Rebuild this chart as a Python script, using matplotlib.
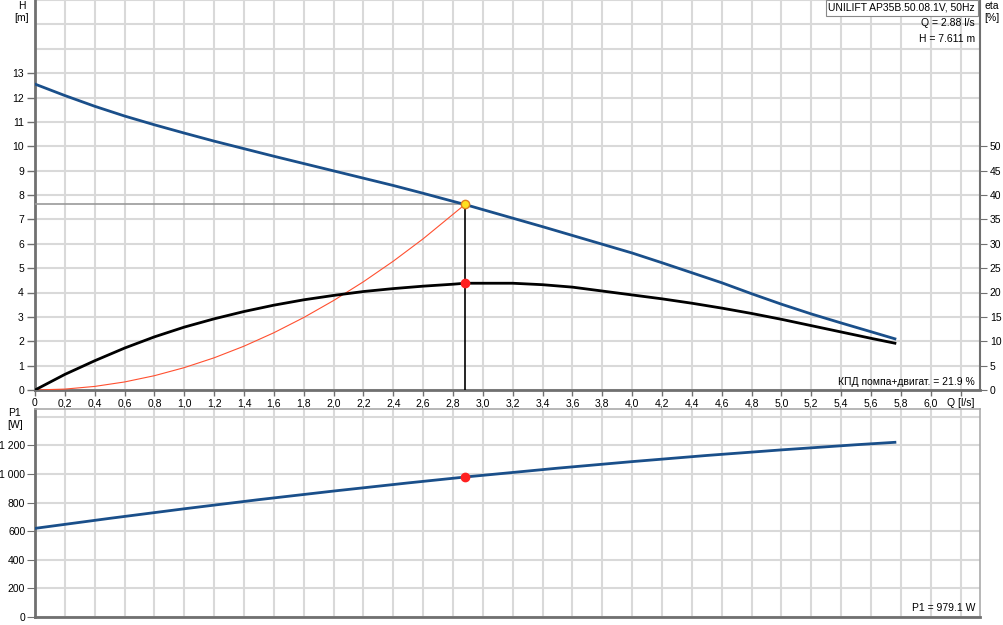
import matplotlib
matplotlib.use("Agg")
import matplotlib.pyplot as plt
import numpy as np

plt.rcParams['font.family'] = ['Liberation Sans', 'DejaVu Sans']

# Data
q_h = [0.0, 0.2, 0.4, 0.6, 0.8, 1.0, 1.2, 1.4, 1.6, 1.8, 2.0, 2.2, 2.4, 2.6, 2.8, 2.88,
       3.0, 3.2, 3.4, 3.6, 3.8, 4.0, 4.2, 4.4, 4.6, 4.8, 5.0, 5.2, 5.4, 5.6, 5.76]
h_vals = [12.55, 12.08, 11.64, 11.24, 10.88, 10.54, 10.21, 9.90, 9.59, 9.29, 8.99, 8.69, 8.39, 8.07, 7.74, 7.611,
          7.40, 7.05, 6.70, 6.34, 5.98, 5.62, 5.22, 4.81, 4.40, 3.95, 3.52, 3.12, 2.75, 2.39, 2.10]

q_eta = [0.0, 0.2, 0.4, 0.6, 0.8, 1.0, 1.2, 1.4, 1.6, 1.8, 2.0, 2.2, 2.4, 2.6, 2.8, 2.88,
         3.0, 3.2, 3.4, 3.6, 3.8, 4.0, 4.2, 4.4, 4.6, 4.8, 5.0, 5.2, 5.4, 5.6, 5.76]
eta_vals = [0.0, 3.2, 6.0, 8.6, 10.9, 12.9, 14.6, 16.1, 17.4, 18.5, 19.4, 20.2, 20.8, 21.3, 21.7, 21.9,
            21.9, 21.9, 21.6, 21.1, 20.3, 19.5, 18.7, 17.8, 16.8, 15.7, 14.5, 13.2, 11.9, 10.6, 9.6]

q_p1 = [0.0, 0.5, 1.0, 1.5, 2.0, 2.5, 2.88, 3.5, 4.0, 4.5, 5.0, 5.5, 5.76]
p1_vals = [620, 690, 757, 821, 881, 938, 979.1, 1041, 1087, 1130, 1169, 1205, 1222]

q_sys = [0.0, 0.2, 0.4, 0.6, 0.8, 1.0, 1.2, 1.4, 1.6, 1.8, 2.0, 2.2, 2.4, 2.6, 2.88]
h_sys = [0.0, 0.037, 0.147, 0.330, 0.587, 0.918, 1.321, 1.798, 2.349, 2.973, 3.670, 4.441, 5.285, 6.203, 7.611]

op_q = 2.88
op_h = 7.611
op_eta = 21.9
op_p1 = 979.1

x_ticks = [round(0.2 * i, 1) for i in range(32)]
x_labels = [f"{t:.1f}".replace('.', ',') if t > 0 else "0" for t in x_ticks]
x_labels[-1] = "Q [l/s]"
h_ticks = list(range(0, 14))
eta_ticks = list(range(0, 55, 5))
p1_ticks = list(range(0, 1201, 200))

title = "UNILIFT AP35B.50.08.1V, 50Hz"

blue = '#1a4f8a'
grid_c = '#d9d9d9'
spine_c = '#707070'
fs = 7.5

fig = plt.figure(figsize=(10.04, 6.25), dpi=100)
L, R = 35 / 1004, 980 / 1004
ax = fig.add_axes([L, 1 - 390 / 625, R - L, 390 / 625])
axp = fig.add_axes([L, 1 - 617 / 625, R - L, (617 - 409) / 625])

xmax = 6.33
# --- top axes ---
ax.set_xlim(0, xmax)
ax.set_ylim(0, 16)
ax.set_xticks(x_ticks)
ax.set_xticklabels(x_labels, fontsize=fs)
ax.set_yticks(h_ticks)
ax.set_yticklabels([str(i) for i in h_ticks], fontsize=fs)
ax.set_yticks([14, 15, 16], minor=True)
ax.grid(True, which='both', color=grid_c, linewidth=1.5)
ax.set_axisbelow(True)
ax.tick_params(axis='both', direction='out', length=4, width=1, color=spine_c, pad=2)
ax.tick_params(axis='y', length=6)
ax.tick_params(axis='y', which='minor', length=0)
for s in ['left', 'bottom']:
    ax.spines[s].set_color(spine_c)
    ax.spines[s].set_linewidth(2)
ax.spines['right'].set_color(spine_c)
ax.spines['right'].set_linewidth(1.5)
ax.spines['top'].set_visible(False)

ax2 = ax.twinx()
ax2.set_ylim(0, 80)
ax2.set_yticks(eta_ticks)
ax2.set_yticklabels([str(i) for i in eta_ticks], fontsize=fs)
ax2.tick_params(axis='y', direction='out', length=5, color=spine_c, pad=2)
for s in ax2.spines.values():
    s.set_visible(False)

# curves
ax.plot(q_sys, h_sys, color='#ff5030', linewidth=0.8, zorder=3)
ax.plot([0, op_q], [op_h, op_h], color='#999999', linewidth=1.2, zorder=3)
ax.plot([op_q, op_q], [0, op_h], color='black', linewidth=1.2, zorder=3)
ax.plot(q_h, h_vals, color=blue, linewidth=2, zorder=4)
ax2.plot(q_eta, eta_vals, color='black', linewidth=2, zorder=4)
ax.plot([op_q], [op_h], marker='o', markersize=6, markerfacecolor='#ffe020',
        markeredgecolor='#e08020', markeredgewidth=1, zorder=6)
ax2.plot([op_q], [op_eta], marker='o', markersize=6, color='#ff2020', zorder=6)

fig.text(975 / 1004, 1 - 8 / 625, title, ha='right', va='center',
         fontsize=fs, bbox=dict(boxstyle='square,pad=0.25', facecolor='white', edgecolor='#888888', linewidth=0.8))
fig.text(975 / 1004, 1 - 23 / 625, f"Q = {op_q:.2f} l/s", ha='right', va='center', fontsize=fs)
fig.text(975 / 1004, 1 - 39 / 625, f"H = {op_h:.3f} m", ha='right', va='center', fontsize=fs)
fig.text(975 / 1004, 1 - 382 / 625, f"КПД помпа+двигат. = {op_eta:.1f} %", ha='right', va='center', fontsize=fs)

fig.text(22 / 1004, 1 - 6 / 625, "H", ha='center', va='center', fontsize=fs)
fig.text(22 / 1004, 1 - 18 / 625, "[m]", ha='center', va='center', fontsize=fs)
fig.text(992 / 1004, 1 - 6 / 625, "eta", ha='center', va='center', fontsize=fs)
fig.text(992 / 1004, 1 - 18 / 625, "[%]", ha='center', va='center', fontsize=fs)

# --- bottom axes ---
axp.set_xlim(0, xmax)
axp.set_ylim(0, 1455)
axp.set_xticks(x_ticks)
axp.set_xticklabels([])
axp.set_yticks(p1_ticks)
axp.set_yticklabels([f"{v:,}".replace(',', ' ') for v in p1_ticks], fontsize=fs)
axp.set_yticks([1400], minor=True)
axp.grid(True, which='both', color=grid_c, linewidth=1.5)
axp.set_axisbelow(True)
axp.tick_params(axis='x', length=0)
axp.tick_params(axis='y', direction='out', length=6, color=spine_c, pad=1)
axp.tick_params(axis='y', which='minor', length=0)
for s in ['left', 'bottom']:
    axp.spines[s].set_color(spine_c)
    axp.spines[s].set_linewidth(2)
for s in ['right', 'top']:
    axp.spines[s].set_color('#aaaaaa')
    axp.spines[s].set_linewidth(1.2)

axp.plot(q_p1, p1_vals, color=blue, linewidth=2, zorder=4)
axp.plot([op_q], [op_p1], marker='o', markersize=6, color='#ff2020', zorder=6)
fig.text(975 / 1004, 1 - 608 / 625, f"P1 = {op_p1:.1f} W", ha='right', va='center', fontsize=fs)
fig.text(15 / 1004, 1 - 413 / 625, "P1", ha='center', va='center', fontsize=fs)
fig.text(15 / 1004, 1 - 425 / 625, "[W]", ha='center', va='center', fontsize=fs)

fig.savefig("out.png", dpi=100)
